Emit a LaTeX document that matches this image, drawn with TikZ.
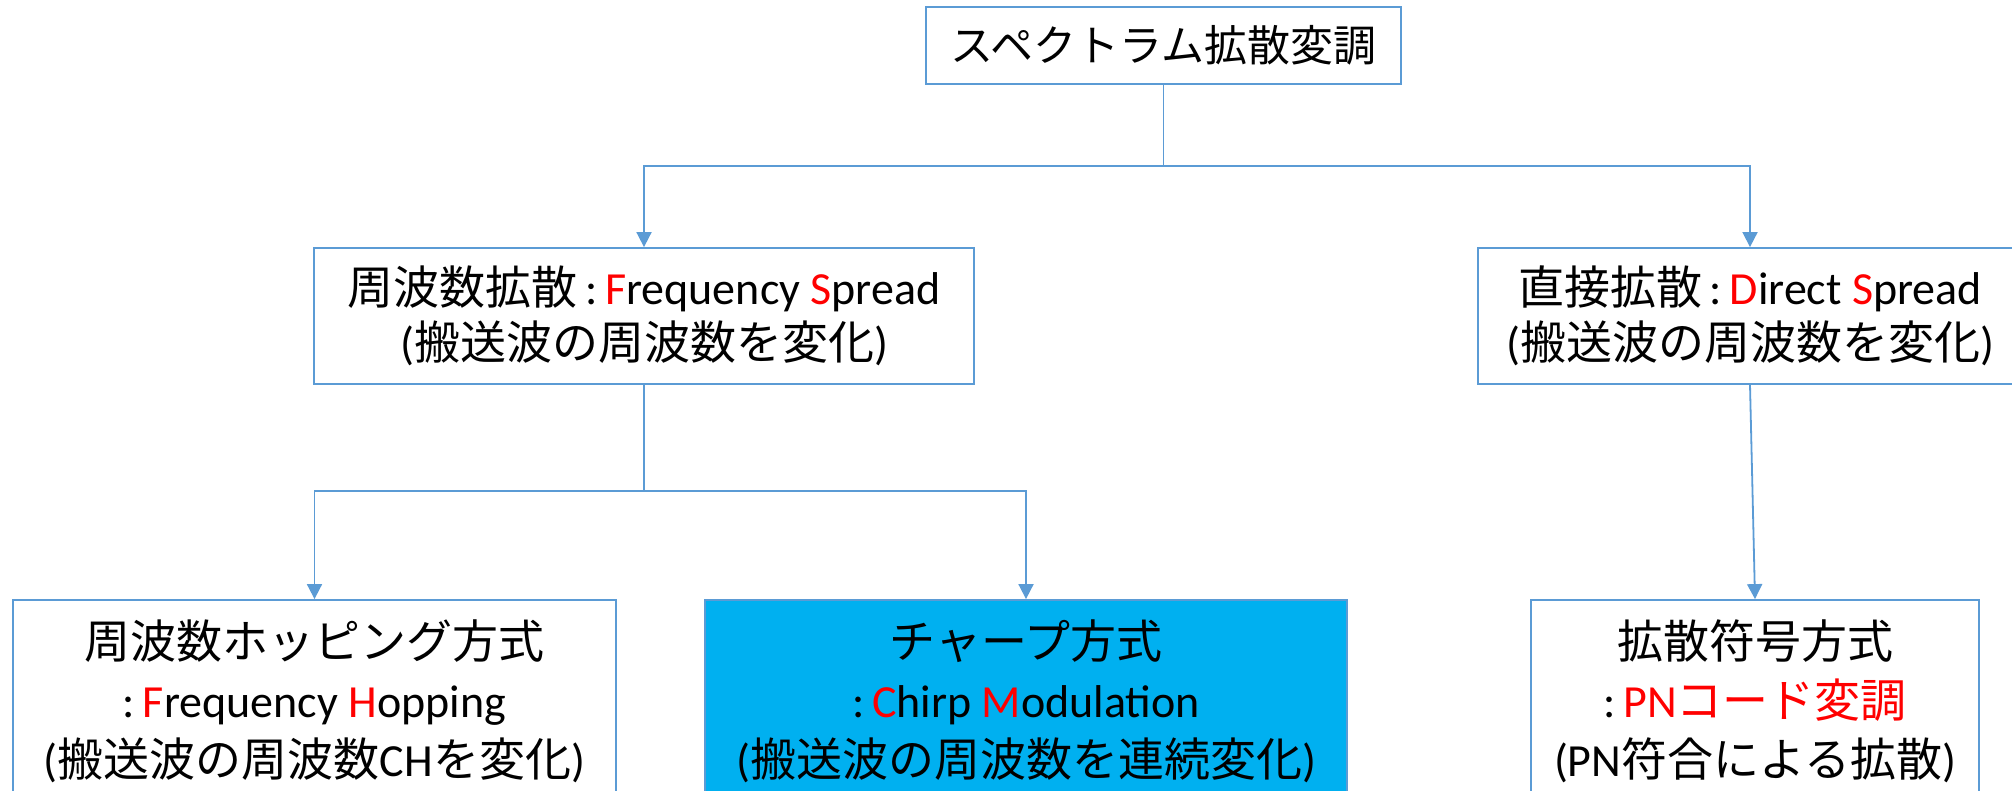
\documentclass[tikz,border=0pt]{standalone}
\usepackage{fontspec}
\setmainfont{Carlito}
\newfontfamily\jp{Noto Sans CJK JP}
\usetikzlibrary{arrows.meta}
\definecolor{edge}{RGB}{91,155,213}
\definecolor{chirpfill}{RGB}{0,176,240}
\definecolor{hl}{RGB}{255,0,0}
\newcommand{\J}[1]{{\jp #1}}
\newcommand{\R}[1]{\textcolor{hl}{#1}}
\newcommand{\colonsep}{\,:\,}
\begin{document}
\begin{tikzpicture}[x=1pt,y=-1pt,
  box/.style={draw=edge,line width=1.8pt,fill=white,align=center,inner sep=0pt,text=black},
  midbox/.style={box,minimum height=136pt,font=\fontsize{46}{55}\selectfont},
  lowbox/.style={box,minimum height=202pt,font=\fontsize{46}{59}\selectfont},
  link/.style={draw=edge,line width=1.8pt},
  arr/.style={link,-{Triangle[width=15pt,length=15pt]}},
]
\useasboundingbox (0,0) rectangle (2012,791);
\clip (0,0) rectangle (2012,791);

% top level
\node[box,minimum width=475pt,minimum height=77pt,font=\fontsize{43}{50}\selectfont]
  (top) at (1163.5,45.5) {\J{スペクトラム拡散変調}};

% second level
\node[midbox,minimum width=660pt] (fs) at (644,316)
  {\J{周波数拡散}\colonsep\R{F}requency \R{S}pread\\(\J{搬送波の周波数を変化})};
\node[midbox,minimum width=544pt] (ds) at (1750,316)
  {\J{直接拡散}\colonsep\R{D}irect \R{S}pread\\(\J{搬送波の周波数を変化})};

% third level
\node[lowbox,minimum width=603pt] (fh) at (314.5,701)
  {\J{周波数ホッピング方式}\\:\,\R{F}requency \R{H}opping\\(\J{搬送波の周波数}CH\J{を変化})};
\node[lowbox,fill=chirpfill,minimum width=642pt] (ch) at (1026,701)
  {\J{チャープ方式}\\:\,\R{C}hirp \R{M}odulation\\(\J{搬送波の周波数を連続変化})};
\node[lowbox,minimum width=448pt] (pn) at (1755,701)
  {\J{拡散符号方式}\\:\,\R{PN\J{コード変調}}\\(PN\J{符合による拡散})};

% connectors
\coordinate (j1) at (top.south |- 0,166);
\draw[link] (top.south) -- (j1);
\draw[arr] (j1) -| (fs.north);
\draw[arr] (j1) -| (ds.north);

\coordinate (j2) at (fs.south |- 0,491);
\draw[link] (fs.south) -- (j2);
\draw[arr] (j2) -| (fh.north);
\draw[arr] (j2) -| (ch.north);

\draw[arr] (ds.south) -- (pn.north);
\end{tikzpicture}
\end{document}
